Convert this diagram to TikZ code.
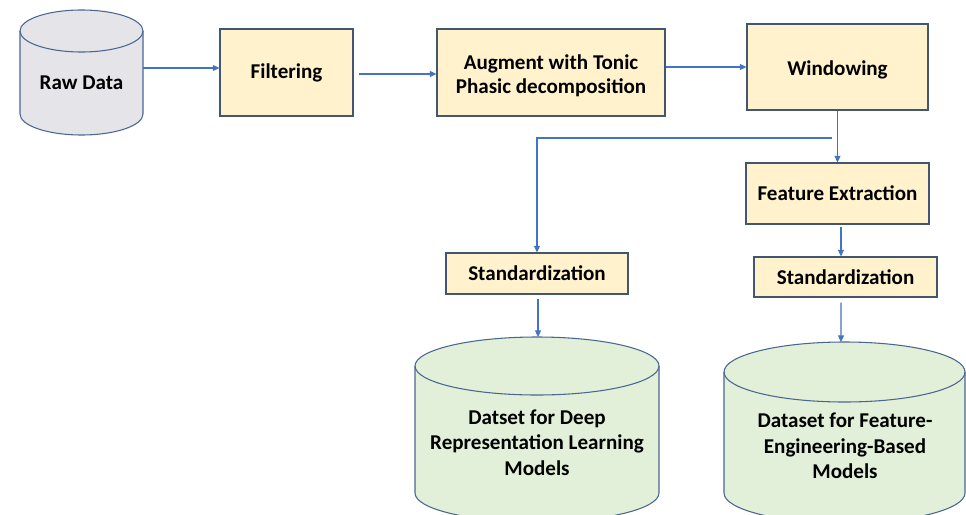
\documentclass[tikz,border=0pt]{standalone}
\usepackage{fontspec}
\setmainfont{Carlito}
\usetikzlibrary{arrows.meta}
\definecolor{boxfill}{HTML}{FFF2CC}
\definecolor{boxline}{HTML}{435670}
\definecolor{cylline}{HTML}{4A6790}
\definecolor{grayfill}{HTML}{E4E4E9}
\definecolor{greenfill}{HTML}{E2F0D9}
\definecolor{arrowc}{HTML}{4472C4}
\newcommand\lowerby[2]{\raisebox{-#1}[\height][\depth]{#2}}
\begin{document}
\begin{tikzpicture}[x=0.75pt,y=0.75pt,
  procbox/.style={draw=boxline,fill=boxfill,line width=0.8pt,inner sep=0pt,
    align=center,font=\fontsize{15.8}{18}\selectfont\bfseries},
  cyltext/.style={inner sep=0pt,align=center,font=\fontsize{15.8}{19}\selectfont\bfseries},
  cylbody/.style={draw=cylline,line width=0.8pt},
  flow/.style={draw=arrowc,line width=0.8pt,-{Triangle[length=5pt,width=4.5pt]}}]
\useasboundingbox (0,0) rectangle (966,-514);
\begin{scope}
\clip (0,0) rectangle (966,-514);
% Raw Data cylinder
\path[cylbody,fill=grayfill] (20,-31) -- (20,-114) arc(180:360:61.5 and 21) -- (143,-31) arc(0:180:61.5 and 21) -- cycle;
\draw[cylbody] (20,-31) arc(180:360:61.5 and 21);
% Deep representation cylinder
\path[cylbody,fill=greenfill] (415,-366) -- (415,-493) arc(180:360:122 and 29) -- (659,-366) arc(0:180:122 and 29) -- cycle;
\draw[cylbody] (415,-366) arc(180:360:122 and 29);
% Feature engineering cylinder
\path[cylbody,fill=greenfill] (724,-372) -- (724,-493) arc(180:360:120.5 and 30) -- (965,-372) arc(0:180:120.5 and 30) -- cycle;
\draw[cylbody] (724,-372) arc(180:360:120.5 and 30);
\end{scope}

\node[cyltext] (raw) at (81.5,-83) {Raw Data};
\coordinate (rawR) at (143,-68);
\node[cyltext] (ddb) at (537,-442.5) {Datset for Deep\\Representation Learning\\Models};
\coordinate (ddbtop) at (538,-337);
\node[cyltext] (fdb) at (845,-446) {Dataset for Feature-\\Engineering-Based\\Models};
\coordinate (fdbtop) at (841,-342);

\node[procbox,minimum width=99.75pt,minimum height=65.25pt] (filt) at (286.5,-72.5) {\lowerby{0.6pt}{Filtering}};
\node[procbox,minimum width=171pt,minimum height=65.25pt] (aug) at (551,-72.5) {\lowerby{3pt}{\begin{tabular}{@{}c@{}}Augment with Tonic\\[0pt]Phasic decomposition\end{tabular}}};
\node[procbox,minimum width=135.75pt,minimum height=64.5pt] (win) at (837.5,-67) {\lowerby{2pt}{Windowing}};
\node[procbox,minimum width=137.25pt,minimum height=45.75pt] (feat) at (837.5,-193.5) {Feature Extraction};
\node[procbox,minimum width=136.5pt,minimum height=30.75pt] (lstd) at (537,-273.5) {Standardization};
\node[procbox,minimum width=137.25pt,minimum height=30pt] (rstd) at (845.5,-277) {Standardization};
\coordinate (br) at (832,-138);

\draw[flow] (rawR) -- (rawR -| filt.west);
\draw[flow] ([xshift=3.75pt,yshift=-1.1pt]filt.east) -- ([yshift=-1.1pt]aug.west);
\draw[flow] (aug.east |- win.west) -- (win.west);
\draw[flow] (win.south) -- (feat.north);
\draw[flow] (br) -| (lstd.north);
\draw[flow] ([xshift=2.6pt,yshift=-2.2pt]feat.south) -- ([xshift=2.6pt]feat.south |- rstd.north);
\draw[flow] ([xshift=0.75pt,yshift=-3pt]lstd.south) -- (ddbtop);
\draw[flow] ([xshift=-3.4pt,yshift=-3.75pt]rstd.south) -- (fdbtop);
\end{tikzpicture}
\end{document}
